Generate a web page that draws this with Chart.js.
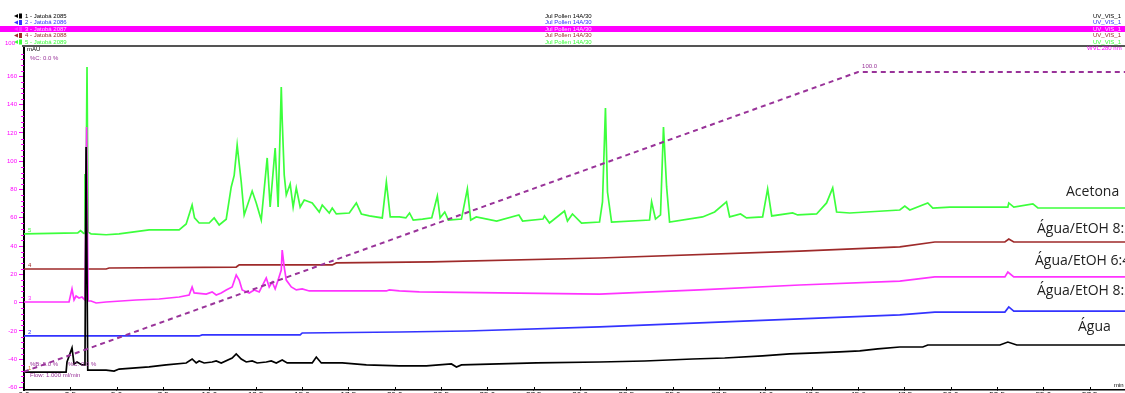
<!DOCTYPE html>
<html>
<head>
<meta charset="utf-8">
<script src="https://cdn.jsdelivr.net/npm/chart.js@4.4.1/dist/chart.umd.min.js"></script>
<style>
    html, body { margin: 0; padding: 0; background: #ffffff; overflow: hidden; }
</style>
</head>
<body>
<canvas id="cromatograma" width="1125" height="400"></canvas>
<script>
// Eixos: tempo (min) e absorbância (mAU)
const minutosTicks = [0, 2.5, 5, 7.5, 10, 12.5, 15, 17.5, 20, 22.5, 25, 27.5, 30, 32.5, 35, 37.5, 40, 42.5, 45, 47.5, 50, 52.5, 55, 57.5];
const mauTicks = [-60, -40, -20, 0, 20, 40, 60, 80, 100, 120, 140, 160];

const nomesAmostras = ["Água", "Água/EtOH 8:2", "Água/EtOH 6:4", "Água/EtOH 8:2", "Acetona"];
const cabecalhoAmostras = ["1 - Jatobá 2085", "2 - Jatobá 2086", "3 - Jatobá 2087", "4 - Jatobá 2088", "5 - Jatobá 2089"];
const cabecalhoProgramas = ["Jul Pollen 14A/30", "Jul Pollen 14A/30", "Jul Pollen 14A/30", "Jul Pollen 14A/30", "Jul Pollen 14A/30"];
const cabecalhoCanais = ["UV_VIS_1", "UV_VIS_1", "UV_VIS_1", "UV_VIS_1", "UV_VIS_1"];

// Traço 1 - Água
const agua = [
    [0, -49.0], [2.27, -49.0], [2.32, -41.9], [2.59, -32.0], [2.70, -43.3], [2.86, -41.9],
    [3.13, -44.0], [3.29, -44.0], [3.35, 110.0], [3.44, -47.6], [3.62, -47.6], [4.43, -47.6],
    [4.86, -48.3], [5.13, -46.9], [6.75, -45.4], [7.67, -44.0], [8.75, -42.6], [9.07, -39.8],
    [9.29, -42.6], [9.45, -41.2], [9.72, -42.6], [10.15, -41.9], [10.37, -41.2], [10.64, -42.6],
    [11.23, -39.1], [11.45, -36.2], [11.72, -39.8], [11.99, -41.9], [12.31, -41.2], [12.58, -42.6],
    [13.07, -41.9], [13.34, -41.2], [13.61, -42.6], [13.93, -40.5], [14.20, -42.6], [15.55, -42.6],
    [15.77, -38.4], [16.04, -42.6], [17.17, -42.6], [18.47, -44.0], [20.25, -44.7], [21.71, -44.7],
    [23.06, -43.3], [23.33, -45.4], [23.60, -44.0], [27.65, -42.6], [31.05, -41.9], [33.48, -41.2],
    [36.07, -39.8], [37.80, -39.1], [39.85, -37.6], [41.31, -36.2], [42.76, -35.5], [44.01, -34.8],
    [45.09, -34.1], [46.06, -32.7], [47.25, -31.3], [48.49, -31.3], [48.76, -29.9], [52.65, -29.9],
    [53.08, -27.8], [53.56, -29.9], [59.4, -29.9]
];

// Traço 2 - Água/EtOH 8:2
const aguaEtoh82A = [
    [0, -23.5], [9.45, -23.5], [9.61, -22.8], [14.90, -22.8], [15.01, -21.4], [20.25, -20.7],
    [23.92, -20.0], [31.05, -17.1], [36.45, -14.3], [41.85, -11.5], [47.25, -8.6], [49.14, -6.6],
    [52.92, -6.6], [53.13, -3.0], [53.40, -5.9], [59.4, -5.9]
];

// Traço 3 - Água/EtOH 6:4
const aguaEtoh64 = [
    [0, 0.5], [2.43, 0.5], [2.59, 9.7], [2.70, 1.9], [2.81, 4.7], [2.97, 3.3], [3.13, 4.0],
    [3.29, 1.9], [3.38, 124.2], [3.46, 1.2], [3.62, 1.2], [3.89, -0.2], [4.43, 0.5], [6.05, 1.9],
    [7.29, 2.6], [8.37, 4.0], [8.91, 5.4], [9.07, 11.1], [9.18, 6.9], [9.83, 6.1], [10.15, 7.6],
    [10.37, 5.4], [10.64, 6.9], [10.91, 9.0], [11.23, 11.1], [11.45, 19.6], [11.61, 16.0],
    [11.77, 9.0], [12.15, 6.9], [12.42, 9.0], [12.69, 7.6], [13.07, 17.5], [13.23, 11.1],
    [13.39, 14.6], [13.55, 9.7], [13.71, 16.0], [13.88, 23.1], [13.93, 37.2], [14.04, 25.2],
    [14.15, 16.0], [14.42, 11.1], [14.69, 9.0], [15.01, 9.7], [15.39, 8.3], [19.55, 8.3],
    [19.71, 9.0], [20.25, 8.3], [21.33, 7.6], [25.65, 6.9], [31.05, 6.1], [36.45, 9.0],
    [41.85, 12.5], [47.25, 15.3], [49.14, 18.2], [52.92, 18.2], [53.08, 21.7], [53.40, 18.2],
    [59.4, 18.2]
];

// Traço 4 - Água/EtOH 8:2
const aguaEtoh82B = [
    [0, 23.8], [4.43, 23.8], [4.59, 24.5], [11.45, 25.2], [11.61, 26.7], [16.63, 26.7],
    [16.85, 28.1], [22.0, 28.8], [31.05, 31.6], [41.85, 36.5], [47.25, 39.4], [49.14, 42.9],
    [52.92, 42.9], [53.13, 45.0], [53.40, 42.9], [59.4, 42.9]
];

// Traço 5 - Acetona
const acetona = [
    [0, 48.6], [2.9, 49.3], [3.05, 51.0], [3.2, 49.3], [3.24, 49.0], [3.29, 91.0], [3.33, 50.0],
    [3.40, 166.6], [3.46, 50.0], [3.62, 48.6], [4.43, 48.0], [5.13, 48.6], [6.75, 51.4],
    [8.37, 51.4], [8.75, 55.6], [9.07, 69.0], [9.20, 60.0], [9.45, 56.3], [9.99, 56.3],
    [10.26, 59.9], [10.53, 54.9], [10.91, 59.0], [11.18, 81.8], [11.34, 90.0], [11.50, 111.4],
    [11.72, 85.3], [11.88, 62.0], [12.31, 78.9], [12.53, 70.5], [12.80, 58.4], [13.12, 102.3],
    [13.28, 67.6], [13.55, 109.3], [13.71, 67.6], [13.88, 152.4], [13.93, 129.2], [14.04, 90.2],
    [14.15, 76.1], [14.36, 83.9], [14.52, 67.6], [14.69, 81.1], [14.90, 67.6], [15.12, 72.6],
    [15.55, 70.5], [15.93, 64.1], [16.09, 69.0], [16.47, 63.4], [16.63, 66.9], [16.85, 62.7],
    [17.55, 63.4], [17.93, 70.5], [18.20, 62.7], [18.63, 61.3], [19.33, 59.9], [19.55, 85.3],
    [19.76, 60.6], [20.25, 60.6], [20.6, 59.9], [20.8, 63.4], [21.0, 58.4], [21.5, 59.1],
    [22.0, 60.0], [22.3, 75.4], [22.45, 60.0], [22.7, 64.1], [22.9, 58.4], [23.6, 59.1],
    [23.92, 80.4], [24.1, 58.4], [24.4, 60.6], [25.5, 57.7], [26.7, 62.0], [26.9, 57.7],
    [28.0, 59.1], [28.08, 61.3], [28.35, 56.3], [29.16, 64.8], [29.32, 57.7], [29.59, 62.7],
    [30.08, 56.3], [31.05, 57.0], [31.21, 71.2], [31.37, 137.6], [31.48, 78.2], [31.70, 57.0],
    [33.75, 58.4], [33.86, 71.2], [34.07, 59.1], [34.34, 62.0], [34.50, 124.2], [34.67, 81.8],
    [34.83, 57.0], [36.61, 60.6], [37.26, 64.1], [37.90, 71.2], [38.07, 60.6], [38.66, 62.7],
    [38.98, 59.9], [39.85, 60.6], [40.12, 80.4], [40.34, 61.3], [41.47, 63.4], [41.74, 62.0],
    [42.76, 62.7], [43.30, 70.5], [43.63, 81.1], [43.84, 64.1], [44.55, 63.4], [47.25, 65.5],
    [47.52, 68.3], [47.79, 65.5], [48.76, 70.5], [49.03, 66.9], [49.95, 67.6], [53.08, 67.6],
    [53.13, 70.5], [53.40, 67.6], [54.43, 69.8], [54.70, 66.9], [59.4, 66.9]
];

// Gradiente (%B)
const gradienteB = [[0, 5], [45, 100], [59.4, 100]];

const coresTracos = ["#000000", "#3333ff", "#ff33ff", "#9e2a2a", "#3cff3c"];
const corGradiente = "#993399";

const tracos = [agua, aguaEtoh82A, aguaEtoh64, aguaEtoh82B, acetona];
const paraXY = (serie) => serie.map(([x, y]) => ({ x, y }));

const datasets = [
    {
        label: "%B",
        data: paraXY(gradienteB),
        yAxisID: "yB",
        borderColor: corGradiente,
        borderWidth: 2,
        borderDash: [5, 4],
        pointRadius: 0,
    },
    ...tracos.map((serie, i) => ({
        label: nomesAmostras[i],
        data: paraXY(serie),
        yAxisID: "y",
        borderColor: coresTracos[i],
        borderWidth: 1.7,
        pointRadius: 0,
    })),
];

// Textos do cabeçalho, rótulos e marcas menores
const textosCromatograma = {
    id: "textosCromatograma",
    beforeDraw(chart) {
        const { ctx } = chart;
        ctx.save();
        ctx.fillStyle = "#ff00ff";
        ctx.fillRect(0, 26, chart.width, 6);
        ctx.font = '6px "Liberation Sans"';
        ctx.textBaseline = "middle";
        cabecalhoAmostras.forEach((txt, i) => {
            const y = 16 + i * 6.5;
            ctx.fillStyle = coresTracos[i];
            ctx.beginPath();
            ctx.moveTo(14, y);
            ctx.lineTo(18, y - 2);
            ctx.lineTo(18, y + 2);
            ctx.fill();
            ctx.fillRect(19, y - 2.5, 3, 5);
            ctx.fillStyle = i === 2 ? "#ffd0ff" : coresTracos[i];
            ctx.fillText(txt, 25, y);
            ctx.fillText(cabecalhoProgramas[i], 545, y);
            ctx.fillText(cabecalhoCanais[i], 1093, y);
        });
        ctx.restore();
    },
    afterDraw(chart) {
        const { ctx, chartArea: a, scales } = chart;
        const y = scales.y;
        ctx.save();

        // borda superior
        ctx.strokeStyle = "#555555";
        ctx.lineWidth = 2;
        ctx.beginPath();
        ctx.moveTo(a.left - 2, a.top);
        ctx.lineTo(chart.width, a.top);
        ctx.stroke();

        // marcas menores no eixo mAU
        ctx.strokeStyle = "#ff00ff";
        ctx.lineWidth = 1;
        for (let v = -60; v <= 180; v += 4) {
            if (v % 20 === 0) continue;
            const py = Math.round(y.getPixelForValue(v)) + 0.5;
            ctx.beginPath();
            ctx.moveTo(a.left - 3, py);
            ctx.lineTo(a.left, py);
            ctx.stroke();
        }

        // marcas no eixo do tempo
        ctx.strokeStyle = "#000000";
        minutosTicks.forEach((t) => {
            const px = Math.round(scales.x.getPixelForValue(t)) + 0.5;
            ctx.beginPath();
            ctx.moveTo(px, a.bottom);
            ctx.lineTo(px, a.bottom - 3);
            ctx.stroke();
        });

        ctx.font = '6px "Liberation Sans"';
        ctx.textBaseline = "middle";
        ctx.fillStyle = "#ff00ff";
        ctx.fillText("100", 5, a.top - 3);
        ctx.fillText("WVL:280 nm", 1087, a.top + 2);
        ctx.fillStyle = "#000000";
        ctx.fillText("mAU", 27, a.top + 3);
        ctx.fillText("min", 1114, a.bottom - 5);
        ctx.fillStyle = corGradiente;
        ctx.fillText("%C: 0.0 %", 30, a.top + 12);
        ctx.fillText("%B: 5.0 %      %C: 0.0 %", 30, a.bottom - 26);
        ctx.fillText("Flow: 1.000 ml/min", 30, a.bottom - 15);

        // rótulo do fim do gradiente
        const xb = scales.x.getPixelForValue(gradienteB[1][0]);
        const yb = scales.yB.getPixelForValue(gradienteB[1][1]);
        ctx.fillText(gradienteB[1][1].toFixed(1), xb + 4, yb - 6);

        // número de cada traço junto ao início
        tracos.forEach((serie, i) => {
            ctx.fillStyle = i === 0 ? "#d08020" : coresTracos[i];
            ctx.fillText(String(i + 1), a.left + 4, y.getPixelForValue(serie[0][1]) - 4);
        });

        // nomes das amostras à direita
        const elevacao = [18, 20, 16, 13, 16];
        const inicioX = [1078, 1037, 1035, 1037, 1066];
        ctx.font = '14px "Open Sans"';
        ctx.fillStyle = "#222222";
        tracos.forEach((serie, i) => {
            const ultimo = serie[serie.length - 1][1];
            ctx.fillText(nomesAmostras[i], inicioX[i], y.getPixelForValue(ultimo) - elevacao[i]);
        });
        ctx.restore();
    },
};

new Chart(document.getElementById("cromatograma").getContext("2d"), {
    type: "line",
    data: { datasets },
    options: {
        responsive: false,
        animation: false,
        events: [],
        layout: { padding: { top: 46, left: 0, right: 0, bottom: 0 } },
        plugins: {
            legend: { display: false },
            tooltip: { enabled: false },
        },
        scales: {
            x: {
                type: "linear",
                min: 0,
                max: 59.4,
                afterBuildTicks: (scale) => {
                    scale.ticks = minutosTicks.map((v) => ({ value: v }));
                },
                afterFit: (scale) => {
                    scale.height = 10;
                },
                ticks: {
                    color: "#000000",
                    font: { family: "Liberation Sans", size: 8 },
                    padding: 0,
                    maxRotation: 0,
                    autoSkip: false,
                    callback: (v) => v.toFixed(1),
                },
                grid: { drawOnChartArea: false, tickLength: 0, tickColor: "#000000" },
                border: { color: "#000000", width: 1.5 },
            },
            y: {
                min: -61.7,
                max: 181.4,
                afterBuildTicks: (scale) => {
                    scale.ticks = mauTicks.map((v) => ({ value: v }));
                },
                afterFit: (scale) => {
                    scale.width = 24;
                },
                ticks: {
                    color: "#ff00ff",
                    font: { family: "Liberation Sans", size: 6 },
                    padding: 2,
                },
                grid: { drawOnChartArea: false, tickLength: 5, tickColor: "#ff00ff" },
                border: { color: "#000000", width: 2 },
            },
            yB: {
                display: false,
                min: -0.8,
                max: 108.24,
            },
        },
    },
    plugins: [textosCromatograma],
});
</script>
</body>
</html>
